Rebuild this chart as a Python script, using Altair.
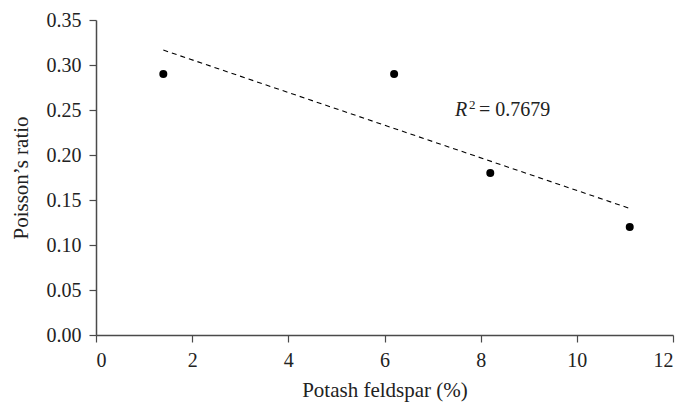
import altair as alt
import pandas as pd

# Measured samples
feldspar = [1.4, 6.2, 8.2, 11.1]
poisson = [0.29, 0.29, 0.18, 0.12]

x_ticks = [0, 2, 4, 6, 8, 10, 12]
y_ticks = [0.0, 0.05, 0.10, 0.15, 0.20, 0.25, 0.30, 0.35]

df = pd.DataFrame({"feldspar": feldspar, "poisson": poisson})

FONT = "Liberation Serif"
AXIS_COLOR = "#4a4a4a"
TEXT_COLOR = "#222222"
FS = 20

x_enc = alt.X(
    "feldspar:Q",
    title="Potash feldspar (%)",
    scale=alt.Scale(domain=[0, 12], nice=False, zero=False),
    axis=alt.Axis(values=x_ticks, format="d", grid=False),
)
y_enc = alt.Y(
    "poisson:Q",
    title="Poisson’s ratio",
    scale=alt.Scale(domain=[0, 0.35], nice=False),
    axis=alt.Axis(values=y_ticks, format=".2f", grid=False),
)

points = alt.Chart(df).mark_circle(size=64, color="black", opacity=1).encode(
    x=x_enc, y=y_enc
)

# least-squares trend over the sampled range
trend = (
    alt.Chart(df)
    .transform_regression("feldspar", "poisson")
    .mark_line(color="black", strokeDash=[5, 4], strokeWidth=1.1)
    .encode(x="feldspar:Q", y="poisson:Q")
)

one = df.head(1)
label_r = alt.Chart(one).mark_text(
    text="R", font=FONT, fontSize=FS, fontStyle="italic", align="left",
    baseline="alphabetic", color=TEXT_COLOR,
).encode(x=alt.value(359), y=alt.value(96))
label_sq = alt.Chart(one).mark_text(
    text="2", font=FONT, fontSize=13, align="left",
    baseline="alphabetic", color=TEXT_COLOR,
).encode(x=alt.value(373), y=alt.value(89))
label_val = alt.Chart(one).mark_text(
    text="= 0.7679", font=FONT, fontSize=FS, align="left",
    baseline="alphabetic", color=TEXT_COLOR,
).encode(x=alt.value(383), y=alt.value(96))

chart = (
    alt.layer(trend, points, label_r, label_sq, label_val)
    .properties(
        width=577,
        height=315,
        autosize=alt.AutoSizeParams(type="none"),
        padding={"left": 96, "top": 20, "right": 13, "bottom": 67},
    )
    .configure_view(stroke=None)
    .configure_axis(
        labelFont=FONT,
        titleFont=FONT,
        labelFontSize=FS,
        titleFontSize=21,
        titleFontWeight="normal",
        labelColor=TEXT_COLOR,
        titleColor=TEXT_COLOR,
        domainColor=AXIS_COLOR,
        tickColor=AXIS_COLOR,
        domainWidth=1.5,
        tickWidth=1.2,
        tickSize=7,
        labelPadding=8,
    )
    .configure_axisX(titlePadding=9)
    .configure_axisY(titlePadding=15)
)

chart.save("out.html", embed_options={"renderer": "svg", "actions": False})
